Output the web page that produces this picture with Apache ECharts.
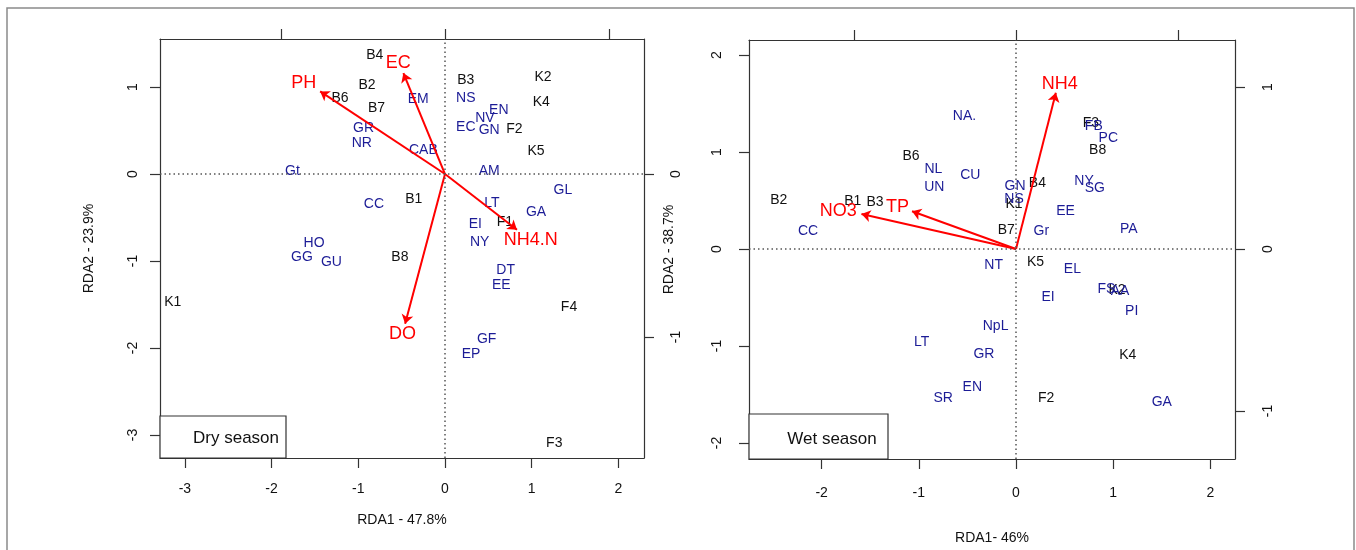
<!DOCTYPE html>
<html>
<head>
<meta charset="utf-8">
<script src="https://cdn.jsdelivr.net/npm/echarts@6/dist/echarts.min.js"></script>
<style>
  html, body { margin: 0; padding: 0; background: #fff; }
  #main { width: 1356px; height: 550px; }
</style>
</head>
<body>
<div id="main"></div>
<script>
// ---- Dry season (left panel) ----
var drySiteNames = ["B4", "B2", "B6", "B7", "B3", "K2", "K4", "F2", "K5", "B1", "F1", "B8", "K1", "F4", "F3"];
var drySiteX = [-0.81, -0.90, -1.21, -0.79, 0.24, 1.13, 1.11, 0.80, 1.05, -0.36, 0.69, -0.52, -3.14, 1.43, 1.26];
var drySiteY = [1.37, 1.02, 0.87, 0.76, 1.08, 1.11, 0.83, 0.52, 0.26, -0.29, -0.55, -0.96, -1.47, -1.53, -3.09];

var drySpNames = ["EM", "NS", "EN", "NV", "EC", "GN", "GR", "NR", "CAB", "Gt", "AM", "CC", "GL", "LT", "GA", "EI", "NY", "HO", "GG", "GU", "DT", "EE", "GF", "EP"];
var drySpX = [-0.31, 0.24, 0.62, 0.46, 0.24, 0.51, -0.94, -0.96, -0.25, -1.76, 0.51, -0.82, 1.36, 0.54, 1.05, 0.35, 0.40, -1.51, -1.65, -1.31, 0.70, 0.65, 0.48, 0.30];
var drySpY = [0.86, 0.87, 0.74, 0.64, 0.54, 0.51, 0.53, 0.35, 0.27, 0.03, 0.03, -0.35, -0.18, -0.34, -0.44, -0.58, -0.78, -0.79, -0.95, -1.01, -1.10, -1.28, -1.90, -2.07];

var dryEnvNames = ["PH", "EC", "NH4.N", "DO"];
var dryEnvTipX = [-1.44, -0.48, 0.83, -0.46];
var dryEnvTipY = [0.95, 1.16, -0.64, -1.72];
var dryEnvLabX = [-1.63, -0.54, 0.99, -0.49];
var dryEnvLabY = [1.05, 1.28, -0.76, -1.84];

// ---- Wet season (right panel) ----
var wetSiteNames = ["B6", "B2", "B1", "B3", "K1", "B4", "B7", "F3", "B8", "K5", "K2", "K4", "F2"];
var wetSiteX = [-1.08, -2.44, -1.68, -1.45, -0.02, 0.22, -0.10, 0.77, 0.84, 0.20, 1.04, 1.15, 0.31];
var wetSiteY = [0.96, 0.50, 0.49, 0.48, 0.46, 0.68, 0.19, 1.30, 1.02, -0.14, -0.42, -1.09, -1.54];

var wetSpNames = ["NA.", "NL", "UN", "CU", "CC", "GN", "NS", "FB", "PC", "NY", "SG", "EE", "Gr", "PA", "NT", "EL", "FS", "AA", "EI", "PI", "NpL", "LT", "GR", "EN", "SR", "GA"];
var wetSpX = [-0.53, -0.85, -0.84, -0.47, -2.14, -0.01, -0.02, 0.80, 0.95, 0.70, 0.81, 0.51, 0.26, 1.16, -0.23, 0.58, 0.93, 1.07, 0.33, 1.19, -0.21, -0.97, -0.33, -0.45, -0.75, 1.50];
var wetSpY = [1.37, 0.82, 0.64, 0.76, 0.18, 0.65, 0.51, 1.27, 1.14, 0.70, 0.63, 0.39, 0.18, 0.20, -0.17, -0.21, -0.41, -0.43, -0.50, -0.64, -0.80, -0.96, -1.08, -1.42, -1.54, -1.58];

var wetEnvNames = ["NO3", "TP", "NH4"];
var wetEnvTipX = [-1.59, -1.07, 0.41];
var wetEnvTipY = [0.36, 0.39, 1.61];
var wetEnvLabX = [-1.83, -1.22, 0.45];
var wetEnvLabY = [0.39, 0.43, 1.70];

// tick values
var dryTicksX = [-3, -2, -1, 0, 1, 2];
var dryTicksY = [-3, -2, -1, 0, 1];
var dryTicksTop = [-1, 0, 1];
var dryTicksRight = [-1, 0];
var wetTicksX = [-2, -1, 0, 1, 2];
var wetTicksY = [-2, -1, 0, 1, 2];
var wetTicksTop = [-1, 0, 1];
var wetTicksRight = [-1, 0, 1];

(function () {
    var myChart = echarts.init(document.getElementById("main"));
    var font = "Liberation Sans, Arial, sans-serif";
    var axisCol = "#333";
    var blue = "#1c1c96";
    var red = "#ff0000";

    function pts(names, xs, ys) {
        var out = [];
        for (var i = 0; i < names.length; i++) {
            out.push({ name: names[i], value: [xs[i], ys[i]] });
        }
        return out;
    }

    function arrows(xs, ys) {
        var out = [];
        for (var i = 0; i < xs.length; i++) {
            out.push({ coords: [[0, 0], [xs[i], ys[i]]] });
        }
        return out;
    }

    function textSeries(data, xi, yi, color, size) {
        return {
            type: "scatter",
            xAxisIndex: xi,
            yAxisIndex: yi,
            symbolSize: 0,
            silent: true,
            itemStyle: { opacity: 1 },
            data: data,
            label: {
                show: true,
                position: "inside",
                formatter: "{b}",
                color: color,
                opacity: 1,
                fontSize: size,
                fontFamily: font
            }
        };
    }

    function axis(grid, pos, min, max, ticks, labels, margin, rot, name, gap) {
        return {
            type: "value",
            gridIndex: grid,
            position: pos,
            min: min,
            max: max,
            name: name || "",
            nameLocation: "middle",
            nameGap: gap || 0,
            nameRotate: (pos === "left" || pos === "right") ? 90 : 0,
            nameTextStyle: { color: "#111", fontSize: 14, fontFamily: font },
            axisLine: { show: true, onZero: false, lineStyle: { color: axisCol, width: 1.2 } },
            axisTick: { show: true, length: 10, customValues: ticks, lineStyle: { color: axisCol, width: 1.2 } },
            axisLabel: {
                show: labels,
                customValues: ticks,
                margin: margin,
                rotate: rot,
                color: "#111",
                fontSize: 14,
                fontFamily: font
            },
            splitLine: { show: false }
        };
    }

    var zeroLines = {
        silent: true,
        symbol: "none",
        label: { show: false },
        lineStyle: { type: [1.5, 3], color: "#555", width: 1.5, opacity: 1 },
        data: [{ xAxis: 0 }, { yAxis: 0 }]
    };

    var option = {
        animation: false,
        backgroundColor: "#fff",
        grid: [
            { left: 160, top: 39, width: 484, height: 419 },
            { left: 749, top: 40, width: 486, height: 419 }
        ],
        xAxis: [
            axis(0, "bottom", -3.287, 2.295, dryTicksX, true, 24, 0, "RDA1 - 47.8%", 55),
            axis(0, "top", -1.738, 1.213, dryTicksTop, false, 8, 0),
            axis(1, "bottom", -2.747, 2.253, wetTicksX, true, 27, 0, "RDA1- 46%", 72),
            axis(1, "top", -1.648, 1.352, wetTicksTop, false, 8, 0)
        ],
        yAxis: [
            axis(0, "left", -3.264, 1.552, dryTicksY, true, 20, 90, "RDA2 - 23.9%", 64),
            axis(0, "right", -1.742, 0.828, dryTicksRight, true, 25, 90),
            axis(1, "left", -2.165, 2.155, wetTicksY, true, 25, 90, "RDA2 - 38.7%", 73),
            axis(1, "right", -1.296, 1.290, wetTicksRight, true, 26, 90)
        ],
        graphic: [
            { type: "rect", shape: { x: 7, y: 8, width: 1347, height: 600 }, style: { fill: "none", stroke: "#8a8a8a", lineWidth: 1.5 }, silent: true },
            { type: "rect", shape: { x: 160, y: 416, width: 126, height: 42 }, style: { fill: "#fff", stroke: axisCol, lineWidth: 1.2 }, z: 10 },
            { type: "text", x: 236, y: 438, style: { text: "Dry season", fill: "#111", font: "17px " + font, align: "center", verticalAlign: "middle" }, z: 11 },
            { type: "rect", shape: { x: 749, y: 414, width: 139, height: 45 }, style: { fill: "#fff", stroke: axisCol, lineWidth: 1.2 }, z: 10 },
            { type: "text", x: 832, y: 439, style: { text: "Wet season", fill: "#111", font: "17px " + font, align: "center", verticalAlign: "middle" }, z: 11 }
        ],
        series: [
            // dry season
            Object.assign(textSeries(pts(drySiteNames, drySiteX, drySiteY), 0, 0, "#111", 14), { markLine: zeroLines }),
            textSeries(pts(drySpNames, drySpX, drySpY), 0, 0, blue, 14),
            {
                type: "lines",
                coordinateSystem: "cartesian2d",
                xAxisIndex: 0,
                yAxisIndex: 0,
                symbol: ["none", "arrow"],
                symbolSize: 9,
                silent: true,
                lineStyle: { color: red, width: 2, opacity: 1 },
                data: arrows(dryEnvTipX, dryEnvTipY),
                z: 3
            },
            textSeries(pts(dryEnvNames, dryEnvLabX, dryEnvLabY), 0, 0, red, 18),
            // wet season
            Object.assign(textSeries(pts(wetSiteNames, wetSiteX, wetSiteY), 2, 2, "#111", 14), { markLine: zeroLines }),
            textSeries(pts(wetSpNames, wetSpX, wetSpY), 2, 2, blue, 14),
            {
                type: "lines",
                coordinateSystem: "cartesian2d",
                xAxisIndex: 2,
                yAxisIndex: 2,
                symbol: ["none", "arrow"],
                symbolSize: 9,
                silent: true,
                lineStyle: { color: red, width: 2, opacity: 1 },
                data: arrows(wetEnvTipX, wetEnvTipY),
                z: 3
            },
            textSeries(pts(wetEnvNames, wetEnvLabX, wetEnvLabY), 2, 2, red, 18)
        ]
    };

    myChart.setOption(option);
    window.addEventListener("resize", function () {
        myChart.resize();
    });
})();
</script>
</body>
</html>
